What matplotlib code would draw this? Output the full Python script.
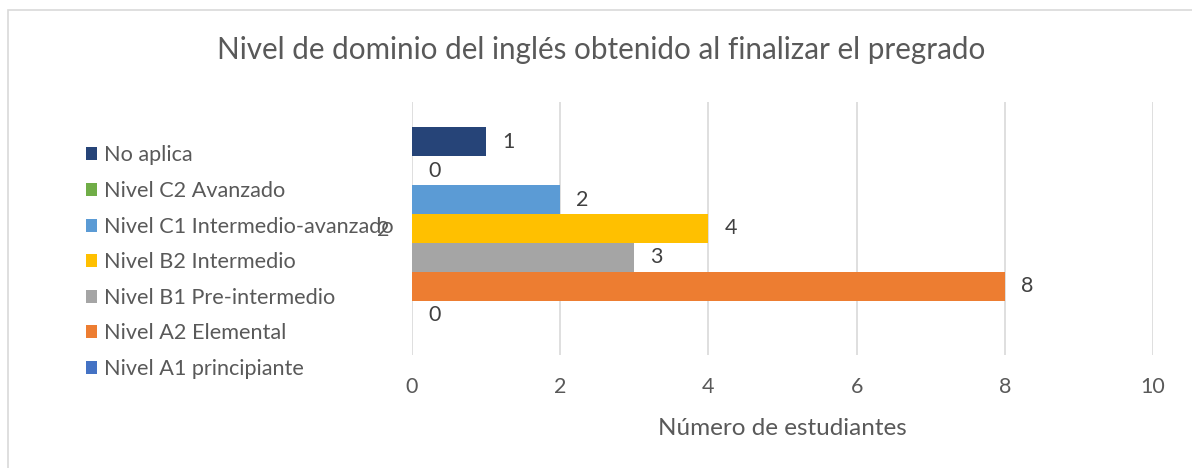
import matplotlib
matplotlib.use("Agg")
import matplotlib.pyplot as plt
from matplotlib.patches import Rectangle
import numpy as np

# series listed bottom -> top, as Excel draws them
series = ["Nivel A1 principiante", "Nivel A2 Elemental", "Nivel B1 Pre-intermedio",
          "Nivel B2 Intermedio", "Nivel C1 Intermedio-avanzado", "Nivel C2 Avanzado",
          "No aplica"]
values = [0, 8, 3, 4, 2, 0, 1]
colors = ["#4472C4", "#ED7D31", "#A5A5A5", "#FFC000", "#5B9BD5", "#70AD47", "#264478"]
category = "2"
xticks = [0, 2, 4, 6, 8, 10]

plt.rcParams['font.family'] = ['Lato', 'DejaVu Sans']
txt = "#595959"

fig = plt.figure(figsize=(11.92, 4.68), dpi=100)
ax = fig.add_axes([412 / 1192, 1 - 355 / 468, 741 / 1192, 253 / 468])

n = len(series)
group = 0.8
h = group / n
handles = []
for i, (name, v, c) in enumerate(zip(series, values, colors)):
    y = 1 - group / 2 + (i + 0.5) * h
    b = ax.barh(y, v, height=h, color=c, label=name)
    handles.append(b)
    ax.annotate(str(v), (v, y), xytext=(11.5, 0), textcoords="offset points",
                ha="left", va="center", fontsize=15.5, color="#404040")

ax.set_xlim(0, 10)
ax.set_ylim(0.5, 1.5)
ax.set_xticks(xticks)
ax.set_xticklabels([str(t) for t in xticks])
ax.set_yticks([1])
ax.set_yticklabels([category])
ax.tick_params(axis="both", length=0, colors=txt, labelsize=15.5)
ax.tick_params(axis="x", pad=16)
ax.tick_params(axis="y", pad=16)
ax.grid(axis="x", color="#D9D9D9", linewidth=1.2)
ax.set_axisbelow(True)
for s in ax.spines.values():
    s.set_visible(False)

ax.set_xlabel("Número de estudiantes", fontsize=17.5, color=txt, labelpad=15)
fig.text(601 / 1192, 1 - 50 / 468, "Nivel de dominio del inglés obtenido al finalizar el pregrado",
         ha="center", va="center", fontsize=21.3, color=txt)

leg = fig.legend(handles[::-1], series[::-1], loc="upper left",
                 bbox_to_anchor=(66 / 1192, 1 - 126 / 468), frameon=False,
                 fontsize=15.6, labelcolor=txt, handlelength=0.55, handleheight=0.55,
                 handletextpad=0.32, labelspacing=0.72)

# chart area border (left and top visible)
fig.patches.append(Rectangle((8 / 1192, -0.1), 1.2, 1 - 10 / 468 + 0.1,
                             transform=fig.transFigure, fill=False,
                             edgecolor="#D9D9D9", linewidth=1.2))

fig.savefig("out.png", dpi=100)
